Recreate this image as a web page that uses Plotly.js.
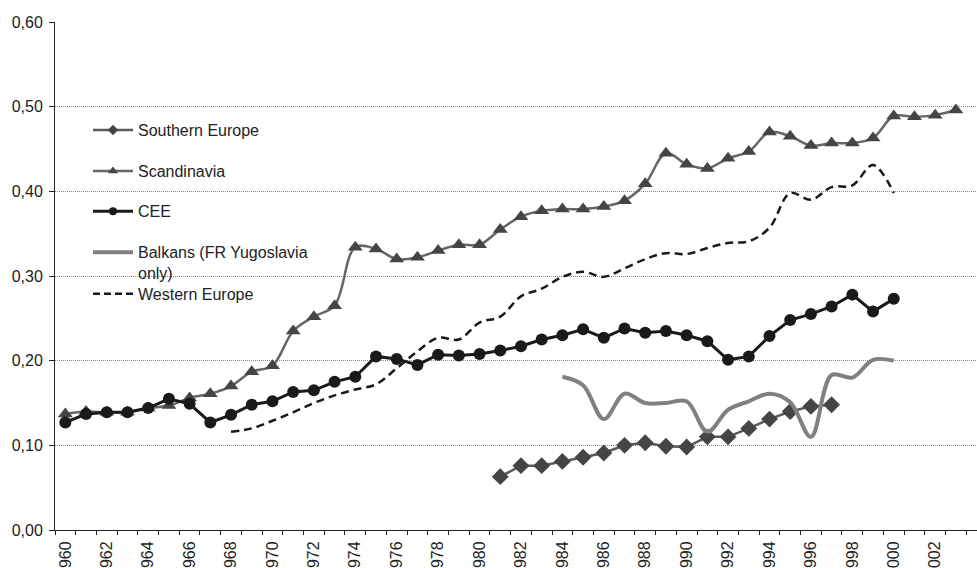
<!DOCTYPE html>
<html>
<head>
<meta charset="utf-8">
<script src="https://cdn.plot.ly/plotly-3.0.1.min.js"></script>
<style>html,body{margin:0;padding:0;background:#fff;}#chart{width:977px;height:568px;}</style>
</head>
<body>
<div id="chart"></div>
<script>
var yearsScand = [];
for (var y = 1960; y <= 2003; y++) yearsScand.push(y);
var scandinavia = [0.137,0.140,0.139,0.139,0.144,0.147,0.156,0.161,0.170,0.187,0.194,0.235,0.252,0.265,0.334,0.332,0.320,0.322,0.330,0.337,0.337,0.355,0.370,0.377,0.379,0.379,0.382,0.389,0.409,0.445,0.432,0.427,0.439,0.447,0.470,0.465,0.454,0.457,0.457,0.463,0.489,0.488,0.490,0.496];

var yearsCEE = yearsScand.slice(0, 41);
var cee = [0.127,0.137,0.139,0.139,0.144,0.155,0.149,0.127,0.136,0.148,0.152,0.163,0.165,0.175,0.181,0.205,0.202,0.195,0.207,0.206,0.208,0.212,0.217,0.225,0.230,0.237,0.227,0.238,0.233,0.235,0.230,0.223,0.201,0.205,0.229,0.248,0.255,0.264,0.278,0.258,0.273];

var yearsSouth = yearsScand.slice(21, 38);
var southern = [0.063,0.076,0.076,0.081,0.086,0.091,0.100,0.103,0.099,0.098,0.110,0.110,0.120,0.131,0.140,0.146,0.148];

var yearsBalkans = yearsScand.slice(24, 41);
var balkans = [0.181,0.171,0.131,0.161,0.150,0.150,0.152,0.116,0.142,0.152,0.161,0.151,0.110,0.183,0.180,0.201,0.200];

var yearsWest = yearsScand.slice(8, 41);
var western = [0.116,0.120,0.129,0.139,0.150,0.159,0.166,0.172,0.191,0.211,0.227,0.225,0.245,0.252,0.276,0.285,0.299,0.305,0.299,0.309,0.320,0.327,0.326,0.333,0.339,0.341,0.357,0.398,0.390,0.405,0.407,0.431,0.398];

var seriesNames = ['Southern Europe', 'Scandinavia', 'CEE', 'Balkans (FR Yugoslavia<br>only)', 'Western Europe'];

var tickYears = [];
for (var t = 1960; t <= 2002; t += 2) tickYears.push(t);
// the reference shows the year labels without their leading "1"
var tickLabels = tickYears.map(function(v){ return String(v).slice(1); });

var F = 'Liberation Sans, Arial, sans-serif';

// main traces (no legend entries)
var traces = [
  {x: yearsSouth, y: southern, mode: 'lines+markers', showlegend: false, name: seriesNames[0],
   line: {color: '#5a5a5a', width: 2.5}, marker: {symbol: 'diamond', size: 13, color: '#454545'}},
  {x: yearsScand, y: scandinavia, mode: 'lines+markers', showlegend: false, name: seriesNames[1],
   line: {color: '#666666', width: 2.5, shape: 'spline', smoothing: 1}, marker: {symbol: 'triangle-up', size: 13, color: '#454545'}},
  {x: yearsCEE, y: cee, mode: 'lines+markers', showlegend: false, name: seriesNames[2],
   line: {color: '#1a1a1a', width: 3}, marker: {symbol: 'circle', size: 12, color: '#1a1a1a'}},
  {x: yearsBalkans, y: balkans, mode: 'lines', showlegend: false, name: seriesNames[3],
   line: {color: '#808080', width: 4, shape: 'spline', smoothing: 1}},
  {x: yearsWest, y: western, mode: 'lines', showlegend: false, name: seriesNames[4],
   line: {color: '#1a1a1a', width: 2.5, dash: '8px,5px', shape: 'spline', smoothing: 1}},
  // legend-only entries with small legend markers, as in the reference
  {x: [null], y: [null], mode: 'lines+markers', name: seriesNames[0], legend: 'legend',
   line: {color: '#5a5a5a', width: 2.5}, marker: {symbol: 'diamond', size: 8, color: '#454545'}},
  {x: [null], y: [null], mode: 'lines+markers', name: seriesNames[1], legend: 'legend2',
   line: {color: '#666666', width: 2.5}, marker: {symbol: 'triangle-up', size: 9, color: '#454545'}},
  {x: [null], y: [null], mode: 'lines+markers', name: seriesNames[2], legend: 'legend3',
   line: {color: '#1a1a1a', width: 3}, marker: {symbol: 'circle', size: 8, color: '#1a1a1a'}},
  {x: [null], y: [null], mode: 'lines', name: seriesNames[3], legend: 'legend4',
   line: {color: '#808080', width: 4}},
  {x: [null], y: [null], mode: 'lines', name: seriesNames[4], legend: 'legend5',
   line: {color: '#1a1a1a', width: 2.5, dash: '7px,4px'}}
];

var L = 55, R = 977, T = 22.4, B = 530;
function px(xp){ return (xp - L) / (R - L); }
function py(yp){ return (B - yp) / (B - T); }
function leg(topY){
  return {x: px(88), y: py(topY), xanchor: 'left', yanchor: 'top', bgcolor: 'rgba(0,0,0,0)',
          font: {family: F, size: 16, color: '#222'},
          itemwidth: 40, valign: 'top', borderwidth: 0};
}

var layout = {
  width: 977, height: 568,
  margin: {l: 55, r: 0, t: 22.4, b: 38},
  paper_bgcolor: '#fff', plot_bgcolor: '#fff',
  separators: ', ',
  showlegend: true,
  font: {family: F, size: 16, color: '#222'},
  legend: leg(113.5),
  legend2: leg(154.5),
  legend3: leg(194.5),
  legend4: leg(235.5),
  legend5: leg(277),
  xaxis: {
    range: [1959.5, 2004.02], showgrid: false, zeroline: false,
    showline: true, linecolor: '#222', linewidth: 1,
    tickmode: 'array', tickvals: tickYears, ticktext: tickLabels,
    tickangle: -90, ticks: 'outside', ticklen: 4, tickcolor: 'rgba(0,0,0,0)',
    tickfont: {size: 16, color: '#222'},
    minor: {dtick: 1, tick0: 0.5, ticks: 'outside', ticklen: 4, tickcolor: '#222', showgrid: false}
  },
  yaxis: {
    range: [0, 0.6], dtick: 0.1, tick0: 0, tickformat: '.2f',
    showgrid: true, gridcolor: '#8a8a8a', gridwidth: 1, griddash: '1px,1px',
    zeroline: false, showline: true, linecolor: '#222', linewidth: 1,
    ticks: 'outside', ticklen: 5, tickcolor: '#222', ticklabelstandoff: 3,
    tickfont: {size: 16, color: '#222'}
  }
};

Plotly.newPlot('chart', traces, layout, {displayModeBar: false, staticPlot: true});
</script>
</body>
</html>
